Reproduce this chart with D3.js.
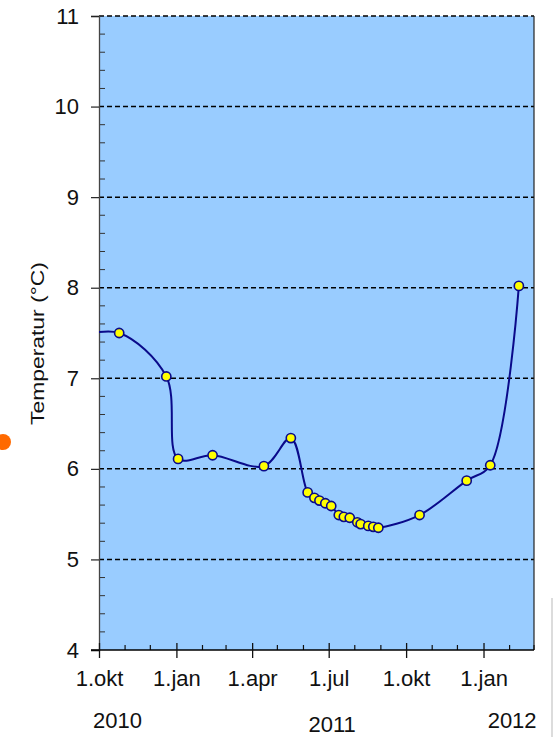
<!DOCTYPE html>
<html>
<head>
<meta charset="utf-8">
<script src="https://cdn.jsdelivr.net/npm/d3@7"></script>
<style>
  html, body { margin: 0; padding: 0; background: #fff; }
  svg { display: block; font-family: "Liberation Sans", Arial, sans-serif; }
</style>
</head>
<body>
<svg id="chart" width="554" height="737"></svg>
<script>
// Measurement dates (the first one lies before the visible range)
const dates = [
  "2010-09-08", "2010-10-25", "2010-12-20", "2011-01-03", "2011-02-13",
  "2011-04-15", "2011-05-17", "2011-06-06", "2011-06-14", "2011-06-20",
  "2011-06-27", "2011-07-04", "2011-07-13", "2011-07-19", "2011-07-26",
  "2011-08-04", "2011-08-08", "2011-08-17", "2011-08-23", "2011-08-29",
  "2011-10-17", "2011-12-12", "2012-01-09", "2012-02-12"
];
// Temperature in °C
const temps = [
  7.47, 7.50, 7.02, 6.11, 6.15,
  6.03, 6.34, 5.74, 5.68, 5.65,
  5.62, 5.59, 5.49, 5.47, 5.46,
  5.41, 5.39, 5.37, 5.36, 5.35,
  5.49, 5.87, 6.04, 8.02
];
const xDomain = ["2010-10-01", "2012-03-01"];
const yTicks = [4, 5, 6, 7, 8, 9, 10, 11];
const xTickLabels = ["1.okt", "1.jan", "1.apr", "1.jul", "1.okt", "1.jan"];
const yearLabels = ["2010", "2011", "2012"];
const yearDates = ["2010-10-23", "2011-07-05", "2012-02-04"];
const yTitle = "Temperatur (°C)";

const parse = d3.timeParse("%Y-%m-%d");
const data = dates.map((d, i) => ({ date: parse(d), t: temps[i] }));

const svg = d3.select("#chart");
const L = 99, R = 534, T = 16, B = 650;

const x = d3.scaleTime().domain(xDomain.map(parse)).range([L, R]);
const y = d3.scaleLinear().domain([4, 11]).range([B, T]);

// plot background
svg.append("rect")
  .attr("x", L).attr("y", T).attr("width", R - L).attr("height", B - T)
  .attr("fill", "#99ccff");

svg.append("clipPath").attr("id", "plotClip")
  .append("rect").attr("x", L).attr("y", T).attr("width", R - L).attr("height", B - T);

// dashed gridlines
svg.append("g").selectAll("line")
  .data(yTicks.filter(v => v > 4))
  .join("line")
  .attr("x1", L).attr("x2", R)
  .attr("y1", d => y(d)).attr("y2", d => y(d))
  .attr("stroke", "#000").attr("stroke-width", 1.5)
  .attr("stroke-dasharray", "5,3");

// right border
svg.append("line")
  .attr("x1", R).attr("x2", R).attr("y1", T).attr("y2", B)
  .attr("stroke", "#222").attr("stroke-width", 1.2);

// y axis: minor ticks inward, major ticks outward
const yMinor = d3.range(40, 111, 2).map(v => v / 10).filter(v => !Number.isInteger(v));
svg.append("g").selectAll("line")
  .data(yMinor).join("line")
  .attr("x1", L).attr("x2", L + 6)
  .attr("y1", d => y(d)).attr("y2", d => y(d))
  .attr("stroke", "#333").attr("stroke-width", 1);

const yAxis = d3.axisLeft(y).tickValues(yTicks).tickSize(8).tickPadding(12).tickFormat(d3.format("d"));
const gy = svg.append("g").attr("transform", `translate(${L},0)`).call(yAxis);
gy.select(".domain").attr("stroke", "#444").attr("stroke-width", 1.3);
gy.selectAll(".tick line").attr("stroke", "#222").attr("stroke-width", 1.2);
gy.selectAll(".tick text")
  .attr("font-size", 22).attr("fill", "#111")
  .attr("font-family", "Liberation Sans, Arial, sans-serif");

// x axis: monthly minor ticks inward, quarterly major ticks across the axis
const months = d3.timeMonth.range(x.domain()[0], d3.timeDay.offset(x.domain()[1], 1));
const quarters = months.filter(d => d.getMonth() % 3 === 0);
const minorMonths = months.filter(d => d.getMonth() % 3 !== 0);

svg.append("g").selectAll("line")
  .data(minorMonths).join("line")
  .attr("x1", d => x(d)).attr("x2", d => x(d))
  .attr("y1", B - 5).attr("y2", B)
  .attr("stroke", "#111").attr("stroke-width", 1.2);

const xAxis = d3.axisBottom(x).tickValues(quarters).tickSize(8).tickPadding(12)
  .tickFormat((d, i) => xTickLabels[i]);
const gx = svg.append("g").attr("transform", `translate(0,${B})`).call(xAxis);
gx.select(".domain").attr("d", `M${L - 8},0H${R}`).attr("stroke", "#000").attr("stroke-width", 1.3);
gx.selectAll(".tick line").attr("y1", -7).attr("stroke", "#111").attr("stroke-width", 1.3);
gx.selectAll(".tick text")
  .attr("font-size", 22).attr("fill", "#111")
  .attr("font-family", "Liberation Sans, Arial, sans-serif");

// year labels under the axis
svg.append("g").selectAll("text")
  .data(yearLabels).join("text")
  .attr("x", (d, i) => x(parse(yearDates[i])))
  .attr("y", (d, i) => i === 1 ? 732 : 728)
  .attr("text-anchor", "middle")
  .attr("font-size", 22).attr("fill", "#111")
  .text(d => d);

// axis title
svg.append("text")
  .attr("transform", "translate(44,343.5) rotate(-90)")
  .attr("text-anchor", "middle")
  .attr("font-size", 18).attr("fill", "#111")
  .attr("textLength", 163).attr("lengthAdjust", "spacingAndGlyphs")
  .text(yTitle);

// temperature curve and measurement markers
const line = d3.line()
  .x(d => x(d.date)).y(d => y(d.t))
  .curve(d3.curveCatmullRom.alpha(0.5));

const plot = svg.append("g").attr("clip-path", "url(#plotClip)");
plot.append("path")
  .datum(data)
  .attr("d", line)
  .attr("fill", "none")
  .attr("stroke", "#0a0a8a").attr("stroke-width", 2);

plot.append("g").selectAll("circle")
  .data(data).join("circle")
  .attr("cx", d => x(d.date)).attr("cy", d => y(d.t))
  .attr("r", 4.6)
  .attr("fill", "#ffff00")
  .attr("stroke", "#0a0a8a").attr("stroke-width", 1.6);

// decorative orange dot at the left edge and a faint rule on the right
svg.append("circle")
  .attr("cx", 3).attr("cy", 442).attr("r", 8)
  .attr("fill", "#ff6a00");
svg.append("line")
  .attr("x1", 552).attr("x2", 552).attr("y1", 598).attr("y2", 737)
  .attr("stroke", "#d0d0d0").attr("stroke-width", 1.5);
</script>
</body>
</html>
